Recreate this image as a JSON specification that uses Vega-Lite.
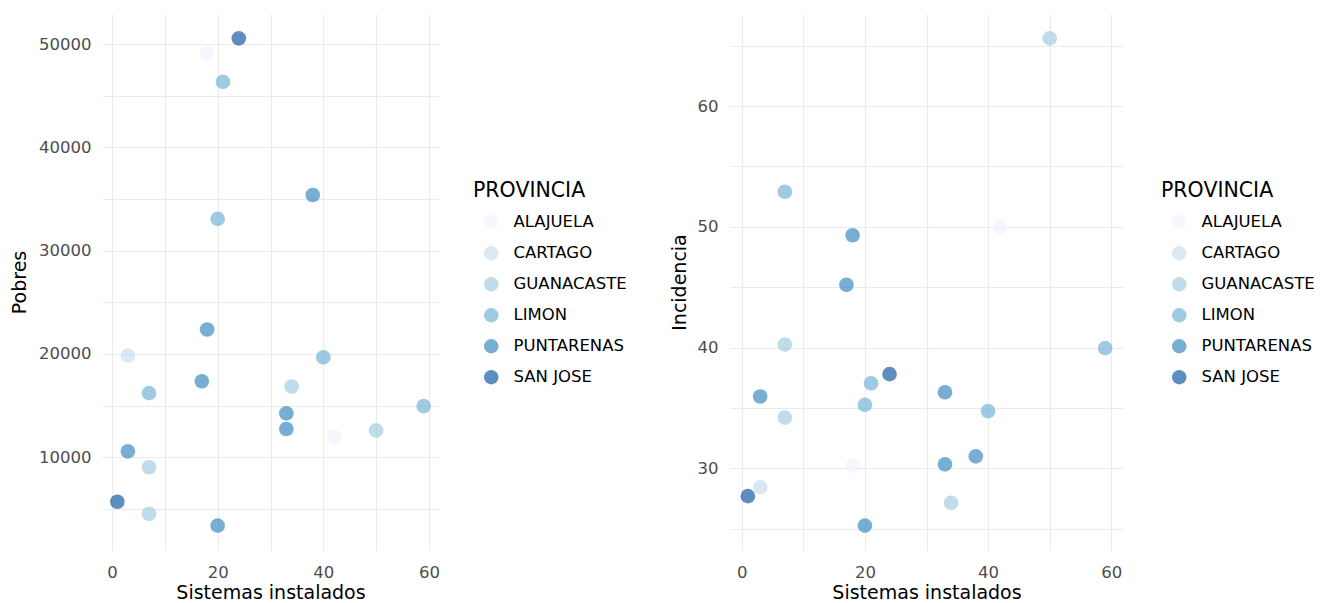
{
  "$schema": "https://vega.github.io/schema/vega-lite/v6.json",
  "padding": {"left": 10, "top": 14, "right": 0, "bottom": 0},
  "background": "white",
  "config": {
    "font": "DejaVu Sans",
    "view": {"stroke": null},
    "axis": {
      "gridColor": "#ebebeb",
      "gridWidth": 1.1,
      "domain": false,
      "ticks": false,
      "labelColor": "#4d4d4d",
      "labelFontSize": 16.5,
      "titleColor": "#000000",
      "titleFontSize": 19,
      "titleFontWeight": "normal"
    },
    "legend": {
      "titleFontSize": 20.5,
      "titleFontWeight": "normal",
      "titleColor": "#000000",
      "labelFontSize": 16.5,
      "labelColor": "#000000",
      "symbolSize": 210,
      "symbolOpacity": 0.65,
      "symbolStrokeWidth": 0,
      "rowPadding": 14,
      "symbolOffset": 10,
      "labelOffset": 14,
      "titlePadding": 12.5
    }
  },
  "data": {
    "values": [
      {"PROVINCIA": "SAN JOSE", "Sistemas": 24, "Pobres": 50550, "Incidencia": 37.8},
      {"PROVINCIA": "SAN JOSE", "Sistemas": 1, "Pobres": 5700, "Incidencia": 27.7},
      {"PROVINCIA": "ALAJUELA", "Sistemas": 18, "Pobres": 49160, "Incidencia": 30.2},
      {"PROVINCIA": "ALAJUELA", "Sistemas": 42, "Pobres": 12005, "Incidencia": 50.0},
      {"PROVINCIA": "CARTAGO", "Sistemas": 3, "Pobres": 19836, "Incidencia": 28.45},
      {"PROVINCIA": "LIMON", "Sistemas": 21, "Pobres": 46340, "Incidencia": 37.05},
      {"PROVINCIA": "LIMON", "Sistemas": 20, "Pobres": 33073, "Incidencia": 35.26},
      {"PROVINCIA": "LIMON", "Sistemas": 40, "Pobres": 19670, "Incidencia": 34.74},
      {"PROVINCIA": "LIMON", "Sistemas": 7, "Pobres": 16205, "Incidencia": 52.9},
      {"PROVINCIA": "LIMON", "Sistemas": 59, "Pobres": 14950, "Incidencia": 39.95},
      {"PROVINCIA": "PUNTARENAS", "Sistemas": 38, "Pobres": 35385, "Incidencia": 30.99},
      {"PROVINCIA": "PUNTARENAS", "Sistemas": 18, "Pobres": 22370, "Incidencia": 49.3},
      {"PROVINCIA": "PUNTARENAS", "Sistemas": 17, "Pobres": 17360, "Incidencia": 45.2},
      {"PROVINCIA": "PUNTARENAS", "Sistemas": 33, "Pobres": 14250, "Incidencia": 36.3},
      {"PROVINCIA": "PUNTARENAS", "Sistemas": 33, "Pobres": 12740, "Incidencia": 30.33},
      {"PROVINCIA": "PUNTARENAS", "Sistemas": 3, "Pobres": 10580, "Incidencia": 35.95},
      {"PROVINCIA": "PUNTARENAS", "Sistemas": 20, "Pobres": 3385, "Incidencia": 25.26},
      {"PROVINCIA": "GUANACASTE", "Sistemas": 34, "Pobres": 16850, "Incidencia": 27.14},
      {"PROVINCIA": "GUANACASTE", "Sistemas": 50, "Pobres": 12610, "Incidencia": 65.6},
      {"PROVINCIA": "GUANACASTE", "Sistemas": 7, "Pobres": 9040, "Incidencia": 40.25},
      {"PROVINCIA": "GUANACASTE", "Sistemas": 7, "Pobres": 4540, "Incidencia": 34.2}
    ]
  },
  "spacing": 43,
  "resolve": {"legend": {"color": "independent"}, "scale": {"color": "shared"}},
  "hconcat": [
    {
      "width": 337,
      "height": 536,
      "mark": {"type": "circle", "size": 215, "opacity": 0.65},
      "encoding": {
        "x": {
          "field": "Sistemas", "type": "quantitative",
          "scale": {"domain": [-1.9, 61.9], "nice": false, "zero": false},
          "axis": {"title": "Sistemas instalados", "values": [0, 10, 20, 30, 40, 50, 60],
                   "labelExpr": "datum.value % 20 === 0 ? datum.label : ''",
                   "labelPadding": 14, "titlePadding": 3}
        },
        "y": {
          "field": "Pobres", "type": "quantitative",
          "scale": {"domain": [1027, 52908], "nice": false, "zero": false},
          "axis": {"title": "Pobres", "format": "d",
                   "values": [5000, 10000, 15000, 20000, 25000, 30000, 35000, 40000, 45000, 50000],
                   "labelExpr": "datum.value % 10000 === 0 ? datum.label : ''",
                   "labelPadding": 11, "titlePadding": 9}
        },
        "color": {
          "field": "PROVINCIA", "type": "nominal",
          "scale": {"domain": ["ALAJUELA", "CARTAGO", "GUANACASTE", "LIMON", "PUNTARENAS", "SAN JOSE"],
                    "range": ["#eff3ff", "#c6dbef", "#9ecae1", "#6baed6", "#3182bd", "#08519c"]},
          "legend": {"title": "PROVINCIA", "orient": "none", "legendX": 371, "legendY": 167}
        }
      }
    },
    {
      "width": 393,
      "height": 536,
      "mark": {"type": "circle", "size": 215, "opacity": 0.65},
      "encoding": {
        "x": {
          "field": "Sistemas", "type": "quantitative",
          "scale": {"domain": [-1.9, 61.9], "nice": false, "zero": false},
          "axis": {"title": "Sistemas instalados", "values": [0, 10, 20, 30, 40, 50, 60],
                   "labelExpr": "datum.value % 20 === 0 ? datum.label : ''",
                   "labelPadding": 14, "titlePadding": 3}
        },
        "y": {
          "field": "Incidencia", "type": "quantitative",
          "scale": {"domain": [23.24, 67.62], "nice": false, "zero": false},
          "axis": {"title": "Incidencia",
                   "values": [25, 30, 35, 40, 45, 50, 55, 60, 65],
                   "labelExpr": "datum.value % 10 === 0 ? datum.label : ''",
                   "labelPadding": 12, "titlePadding": 8}
        },
        "color": {
          "field": "PROVINCIA", "type": "nominal",
          "scale": {"domain": ["ALAJUELA", "CARTAGO", "GUANACASTE", "LIMON", "PUNTARENAS", "SAN JOSE"],
                    "range": ["#eff3ff", "#c6dbef", "#9ecae1", "#6baed6", "#3182bd", "#08519c"]},
          "legend": {"title": "PROVINCIA", "orient": "none", "legendX": 431, "legendY": 167}
        }
      }
    }
  ]
}
